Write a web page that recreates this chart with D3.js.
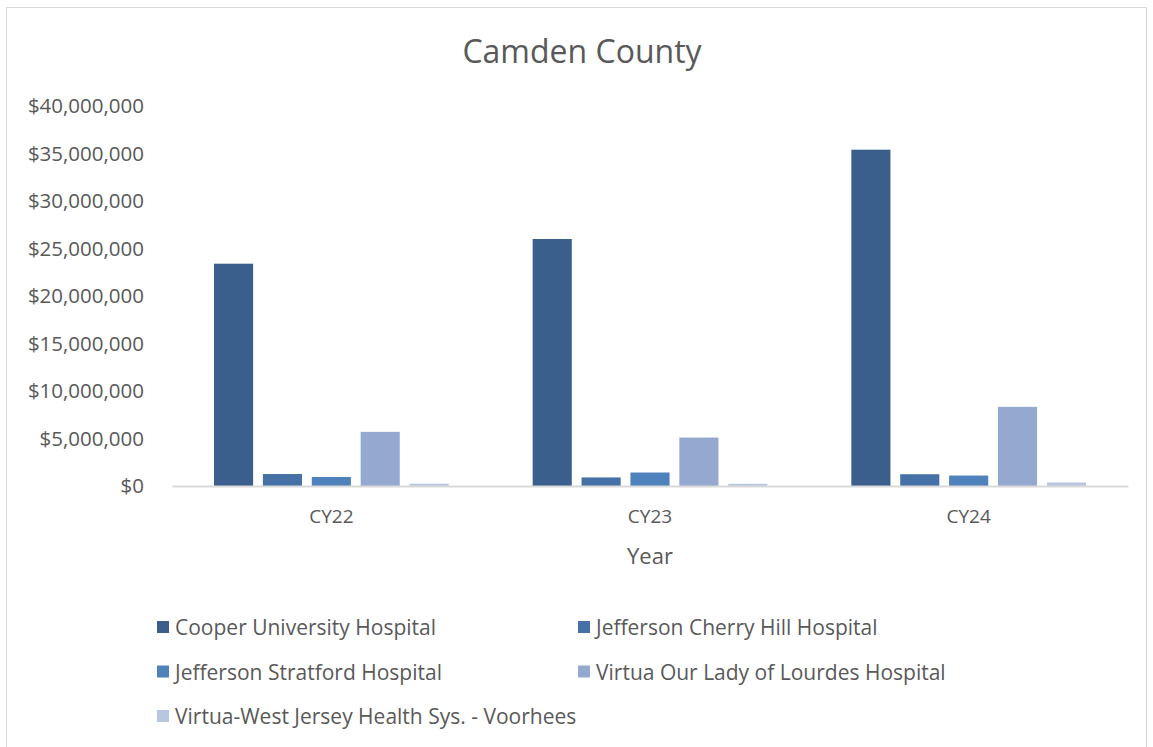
<!DOCTYPE html>
<html lang="en">
<head>
<meta charset="UTF-8">
<title>Camden County</title>
<script src="https://d3js.org/d3.v7.min.js"></script>
<style>
    body { margin: 0; background: #fff; }
    text { font-family: "Open Sans", Lato, sans-serif; fill: #595959; }
</style>
</head>
<body>
<script>
    // data
    var years = ["CY22", "CY23", "CY24"];
    var hospitals = [
        "Cooper University Hospital",
        "Jefferson Cherry Hill Hospital",
        "Jefferson Stratford Hospital",
        "Virtua Our Lady of Lourdes Hospital",
        "Virtua-West Jersey Health Sys. - Voorhees"
    ];
    var cooper      = [23400000, 26000000, 35400000];
    var cherryHill  = [1260000, 900000, 1240000];
    var stratford   = [950000, 1420000, 1100000];
    var lourdes     = [5700000, 5100000, 8330000];
    var voorhees    = [240000, 230000, 370000];
    var yTicks = [0, 5000000, 10000000, 15000000, 20000000, 25000000, 30000000, 35000000, 40000000];

    var series = [cooper, cherryHill, stratford, lourdes, voorhees];
    var colors = ["#3a5f8c", "#4671a6", "#4f81bd", "#95a9d0", "#b9c6df"];

    var width = 1153, height = 747;
    var svg = d3.select("body").append("svg")
        .attr("width", width)
        .attr("height", height);

    // chart border
    svg.append("rect")
        .attr("x", 6.5).attr("y", 7.5)
        .attr("width", 1140).attr("height", 760)
        .attr("fill", "none")
        .attr("stroke", "#d9d9d9");

    var plotLeft = 172, plotRight = 1128, plotTop = 106, plotBottom = 486;

    var x0 = d3.scaleBand().domain(years).range([plotLeft, plotRight]);
    var x1 = d3.scaleBand().domain(d3.range(hospitals.length))
        .range([42, x0.bandwidth() - 42]).paddingInner(0.2);
    var y = d3.scaleLinear().domain([0, 40000000]).range([plotBottom, plotTop]);

    svg.append("text")
        .attr("x", 582).attr("y", 63)
        .attr("text-anchor", "middle")
        .style("font-size", "32px")
        .text("Camden County");

    // y axis labels
    var yAxis = svg.append("g")
        .attr("transform", "translate(" + plotLeft + ",0)")
        .call(d3.axisLeft(y).tickValues(yTicks).tickSize(0).tickPadding(28)
            .tickFormat(function (d) { return "$" + d3.format(",")(d); }));
    yAxis.select(".domain").remove();
    yAxis.selectAll("text").style("font-size", "20.5px").attr("fill", "#595959");

    // bars
    var groups = svg.selectAll("g.year")
        .data(years)
        .enter().append("g")
        .attr("class", "year")
        .attr("transform", function (d) { return "translate(" + x0(d) + ",0)"; });

    groups.selectAll("rect")
        .data(function (d, i) {
            return series.map(function (s, j) { return {k: j, v: s[i]}; });
        })
        .enter().append("rect")
        .attr("x", function (d) { return x1(d.k); })
        .attr("width", x1.bandwidth())
        .attr("y", function (d) { return y(d.v); })
        .attr("height", function (d) { return y(0) - y(d.v); })
        .attr("fill", function (d) { return colors[d.k]; });

    // x axis
    var xAxis = svg.append("g")
        .attr("transform", "translate(0," + plotBottom + ")")
        .call(d3.axisBottom(x0).tickSize(0).tickPadding(24));
    xAxis.select(".domain").attr("stroke", "#d9d9d9").attr("stroke-width", 2);
    xAxis.selectAll("text").style("font-size", "19px").attr("fill", "#595959");

    svg.append("text")
        .attr("x", 650).attr("y", 564)
        .attr("text-anchor", "middle")
        .style("font-size", "22px")
        .text("Year");

    // legend
    var legend = svg.selectAll("g.legend")
        .data(hospitals)
        .enter().append("g")
        .attr("class", "legend")
        .attr("transform", function (d, i) {
            return "translate(" + (i % 2 ? 578 : 157) + "," + (627 + Math.floor(i / 2) * 44.5) + ")";
        });
    legend.append("rect")
        .attr("x", 0).attr("y", -6)
        .attr("width", 12).attr("height", 12)
        .attr("fill", function (d, i) { return colors[i]; });
    legend.append("text")
        .attr("x", 18).attr("y", 8)
        .style("font-size", "21px")
        .text(function (d) { return d; });
</script>
</body>
</html>
